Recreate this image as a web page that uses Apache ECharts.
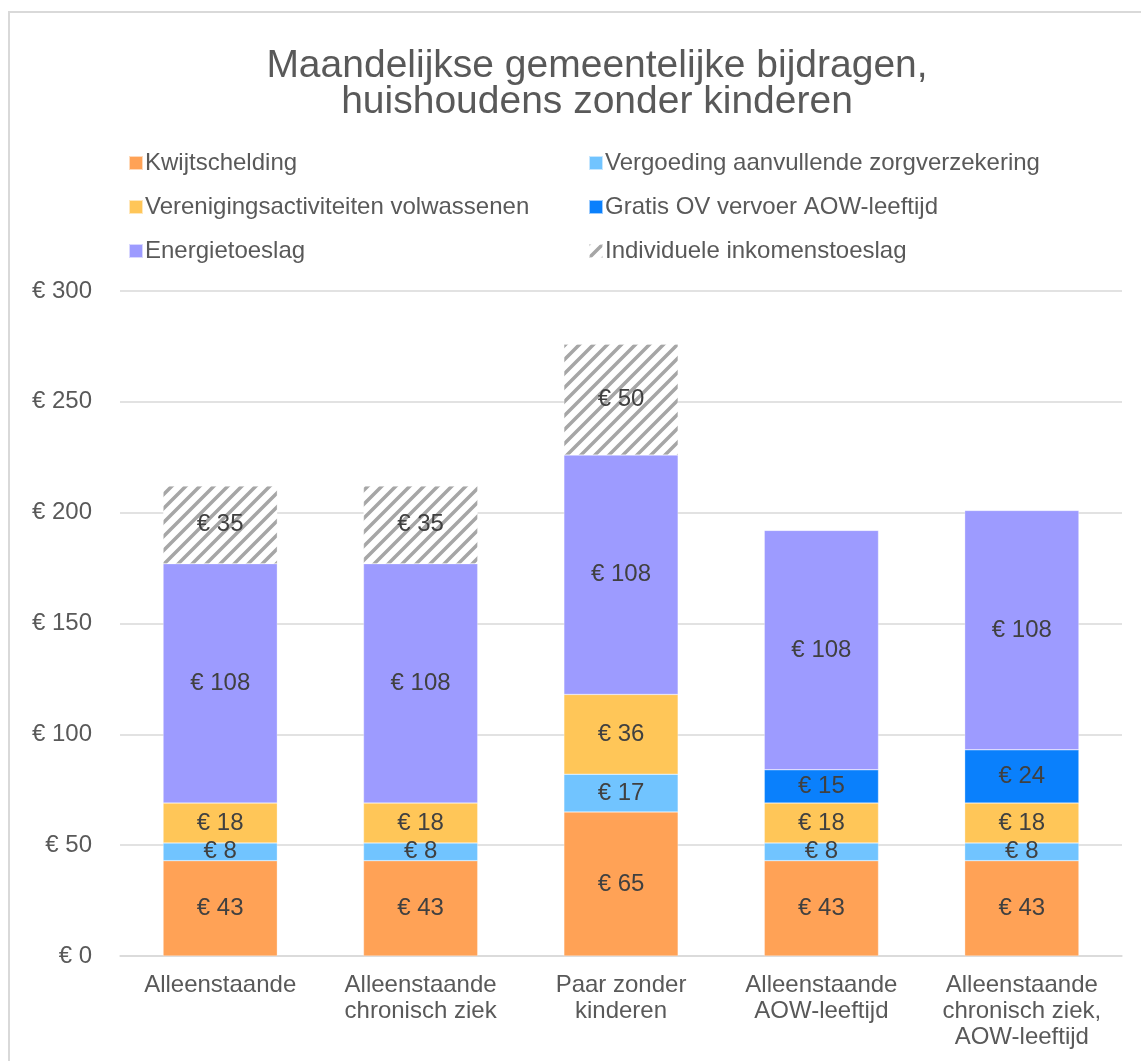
<!DOCTYPE html>
<html>
<head>
<meta charset="UTF-8" />
<title>Maandelijkse gemeentelijke bijdragen</title>
<style>
  html, body { margin: 0; padding: 0; background: #fff; }
  #main { width: 1141px; height: 1061px; }
</style>
</head>
<body>
<div id="main"></div>
<script src="https://cdn.jsdelivr.net/npm/echarts@6/dist/echarts.min.js"></script>
<script>
// categorieen en bedragen (euro per maand)
var categories = ['Alleenstaande', 'Alleenstaande\nchronisch ziek', 'Paar zonder\nkinderen', 'Alleenstaande\nAOW-leeftijd', 'Alleenstaande\nchronisch ziek,\nAOW-leeftijd'];
var kwijtschelding = [43, 43, 65, 43, 43];
var zorgverzekering = [8, 8, 17, 8, 8];
var vereniging = [18, 18, 36, 18, 18];
var gratisOV = [null, null, null, 15, 24];
var energietoeslag = [108, 108, 108, 108, 108];
var inkomenstoeslag = [35, 35, 50, null, null];
var yTicks = [0, 50, 100, 150, 200, 250, 300];

var fontFam = '"Liberation Sans", Arial, sans-serif';

// arcering voor individuele inkomenstoeslag
function hatch() {
    var c = document.createElement('canvas');
    c.width = 14; c.height = 14;
    var ctx = c.getContext('2d');
    ctx.fillStyle = '#ffffff';
    ctx.fillRect(0, 0, 14, 14);
    ctx.strokeStyle = '#a6a6a6';
    ctx.lineWidth = 3.5;
    ctx.beginPath();
    ctx.moveTo(-2, 16); ctx.lineTo(16, -2);
    ctx.moveTo(-9, 9); ctx.lineTo(9, -9);
    ctx.moveTo(5, 23); ctx.lineTo(23, 5);
    ctx.stroke();
    return { image: c, repeat: 'repeat' };
}

var myChart = echarts.init(document.getElementById('main'));

function makeSeries(name, data, color) {
    return {
        name: name,
        type: 'bar',
        stack: 'totaal',
        data: data,
        barWidth: '57%',
        itemStyle: { color: color, borderColor: 'rgba(255,255,255,0.6)', borderWidth: 0.5 },
        label: {
            show: true,
            position: 'inside',
            formatter: function (p) { return '€ ' + p.value; },
            color: '#404040',
            fontSize: 24,
            fontFamily: fontFam
        }
    };
}

var legendText = { fontSize: 24, color: '#595959', lineHeight: 28, fontFamily: fontFam, padding: [0, 0, 0, -3] };

var option = {
    backgroundColor: '#fff',
    animation: false,
    graphic: [{
        type: 'rect',
        shape: { x: 9, y: 12, width: 1200, height: 1200 },
        style: { fill: 'none', stroke: '#d9d9d9', lineWidth: 2 },
        silent: true
    }],
    title: {
        text: 'Maandelijkse gemeentelijke bijdragen,\nhuishoudens zonder kinderen',
        left: 592,
        textAlign: 'center',
        top: 43,
        textStyle: { fontSize: 39, fontWeight: 'normal', color: '#595959', lineHeight: 36, fontFamily: fontFam }
    },
    legend: [{
        orient: 'vertical',
        left: 123,
        top: 144,
        icon: 'rect',
        itemWidth: 14,
        itemHeight: 14,
        itemGap: 16,
        textStyle: legendText,
        data: ['Kwijtschelding', 'Verenigingsactiviteiten volwassenen', 'Energietoeslag']
    }, {
        orient: 'vertical',
        left: 583,
        top: 144,
        icon: 'rect',
        itemWidth: 14,
        itemHeight: 14,
        itemGap: 16,
        textStyle: legendText,
        data: ['Vergoeding aanvullende zorgverzekering', 'Gratis OV vervoer AOW-leeftijd', 'Individuele inkomenstoeslag']
    }],
    grid: { left: 120, right: 19, top: 291, bottom: 105, containLabel: false },
    xAxis: {
        type: 'category',
        data: categories,
        axisLine: { show: true, lineStyle: { color: '#d9d9d9', width: 1.5 } },
        axisTick: { show: false },
        axisLabel: { color: '#595959', fontSize: 24, lineHeight: 26, margin: 16, fontFamily: fontFam, interval: 0 }
    },
    yAxis: {
        type: 'value',
        min: yTicks[0],
        max: yTicks[yTicks.length - 1],
        interval: 50,
        axisLine: { show: false },
        axisTick: { show: false },
        splitLine: { lineStyle: { color: '#d9d9d9', width: 1.5 } },
        axisLabel: {
            color: '#595959', fontSize: 24, margin: 28, fontFamily: fontFam,
            formatter: function (v) { return '€ ' + v; }
        }
    },
    series: [
        makeSeries('Kwijtschelding', kwijtschelding, '#ffa256'),
        makeSeries('Vergoeding aanvullende zorgverzekering', zorgverzekering, '#71c4ff'),
        makeSeries('Verenigingsactiviteiten volwassenen', vereniging, '#ffc658'),
        makeSeries('Gratis OV vervoer AOW-leeftijd', gratisOV, '#0a80fc'),
        makeSeries('Energietoeslag', energietoeslag, '#9d9bff'),
        makeSeries('Individuele inkomenstoeslag', inkomenstoeslag, hatch())
    ]
};

myChart.setOption(option);
</script>
</body>
</html>
